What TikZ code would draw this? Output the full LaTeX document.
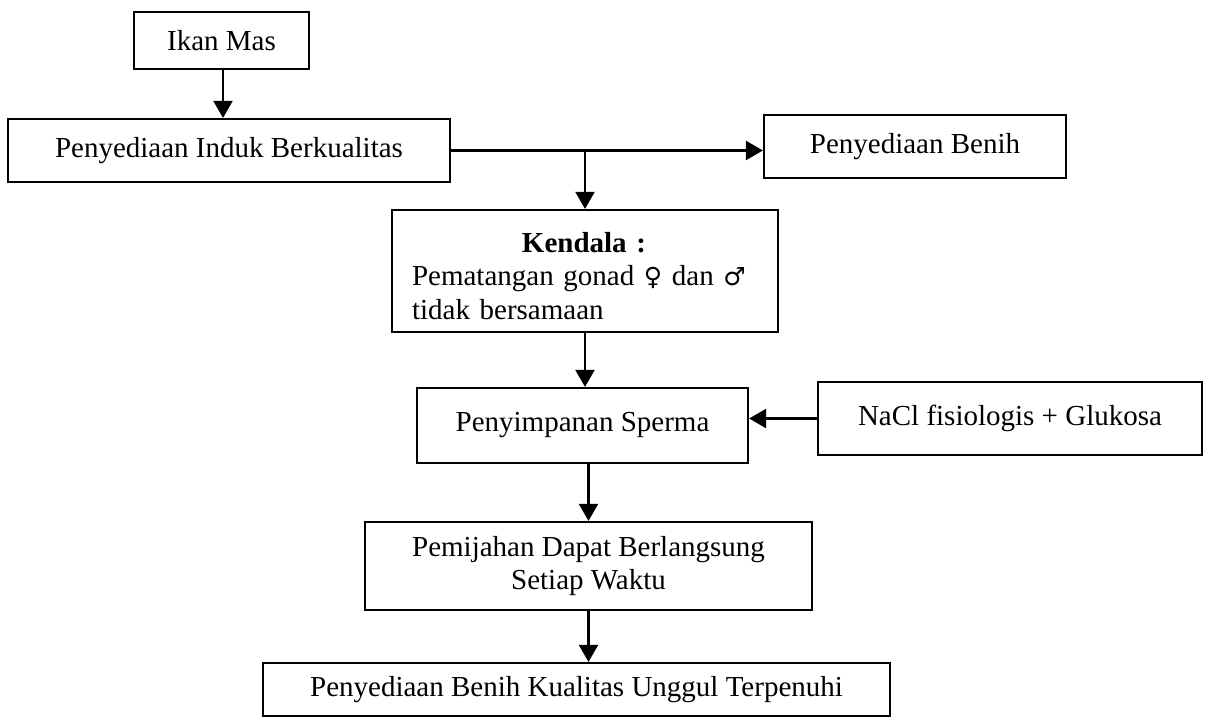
\documentclass[tikz,border=0pt]{standalone}
\usepackage{fontspec}
\setmainfont{Liberation Serif}
\newfontfamily\symfont{DejaVu Sans}
\usetikzlibrary{arrows.meta}
\begin{document}
\begin{tikzpicture}[x=0.5pt,y=-0.5pt,
  txt/.style={inner sep=0pt, font=\fontsize{14.5}{16.75}\selectfont},
  box/.style={draw, line width=1.1pt, rectangle, txt, align=center},
  arr/.style={line width=1.1pt, -{Triangle[width=9.5pt,length=8.5pt]}}]
\useasboundingbox (0,0) rectangle (1205,717);
\node[box, minimum width=87.5pt, minimum height=28.5pt] (ikan) at (221.5,40.5) {Ikan Mas};
\node[box, minimum width=221pt, minimum height=31.5pt] (induk) at (229,150.5) {Penyediaan Induk Berkualitas};
\node[box, minimum width=151pt, minimum height=31.5pt] (benih) at (915,146.5) {Penyediaan Benih};
\node[box, minimum width=193pt, minimum height=61pt] (kendala) at (585,271) {};
\node[txt, text width=172pt, align=left] (kendalatext) at (584,276)
  {\makebox[172pt]{\textbf{Kendala :}}\\Pematangan gonad {\symfont\fontsize{12.5}{14}\selectfont ♀} dan {\symfont\fontsize{12.5}{14}\selectfont ♂}\\tidak bersamaan};
\node[box, minimum width=165.5pt, minimum height=37.5pt] (simpan) at (582.5,425.5) {Penyimpanan Sperma};
\node[box, minimum width=192pt, minimum height=36.5pt] (nacl) at (1010,418.5) {NaCl fisiologis + Glukosa};
\node[box, minimum width=223.5pt, minimum height=44pt] (pijah) at (588.5,566) {Pemijahan Dapat Berlangsung\\Setiap Waktu};
\node[box, minimum width=313.5pt, minimum height=26.5pt] (hasil) at (576.5,689.5) {Penyediaan Benih Kualitas Unggul Terpenuhi};
\coordinate (br) at (585,150.5);
\draw[arr] (ikan.south -| 223,0) -- (223,0 |- induk.north);
\draw[arr] (induk.east) -- (benih.west |- induk.east);
\draw[arr] (br) -- (kendala.north);
\draw[arr] (kendala.south) -- (kendala.south |- simpan.north);
\draw[arr] (nacl.west) -- (simpan.east |- nacl.west);
\draw[arr] (pijah.north |- simpan.south) -- (pijah.north);
\draw[arr] (pijah.south) -- (pijah.south |- hasil.north);
\end{tikzpicture}
\end{document}
